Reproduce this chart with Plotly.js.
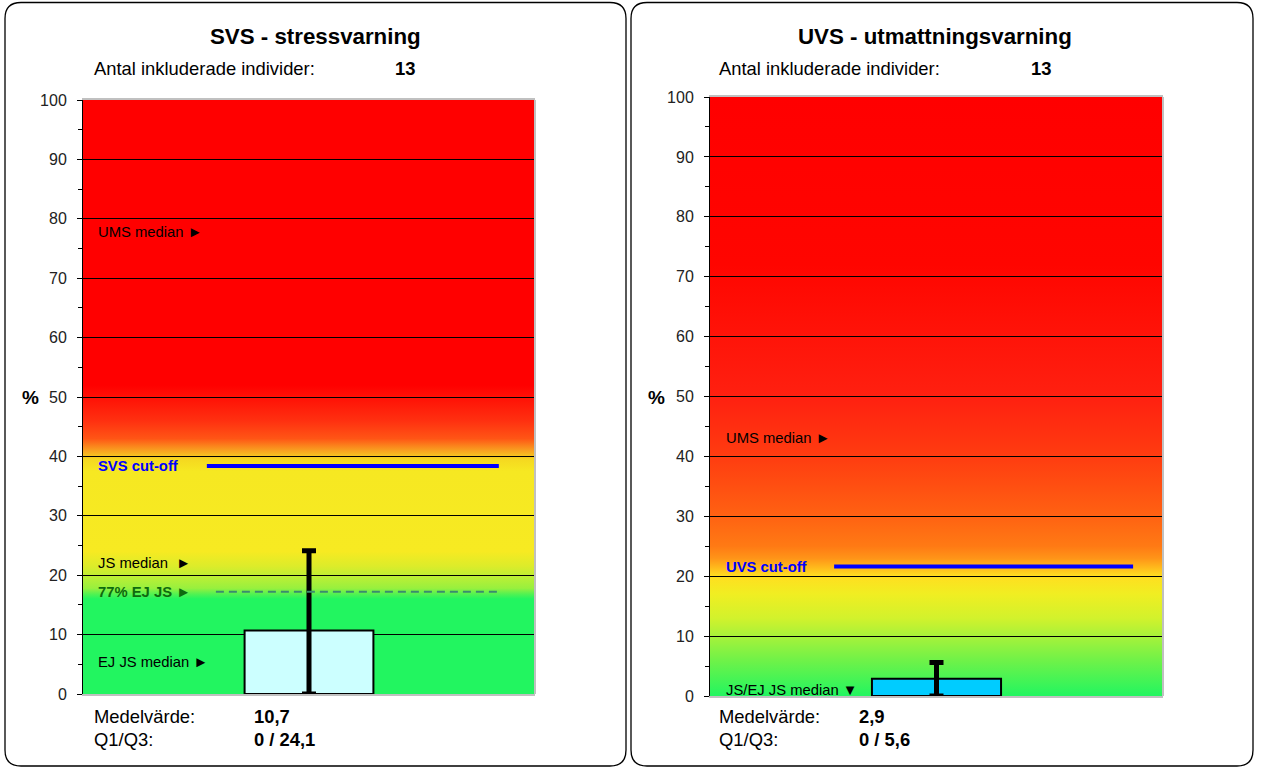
<!DOCTYPE html>
<html>
<head>
<meta charset="utf-8">
<script src="https://cdn.plot.ly/plotly-3.0.1.min.js"></script>
<style>html,body{margin:0;padding:0;background:#fff;}#chart{width:1264px;height:783px;}</style>
</head>
<body>
<div id="chart"></div>
<script>
// ---------- data ----------
const panelTitles = ['SVS - stressvarning', 'UVS - utmattningsvarning'];
const category = ['Grupp'];
const nIncluded = [13, 13];
const meanValues = [10.7, 2.9];
const q1Values = [0, 0];
const q3Values = [24.1, 5.6];
const cutoffValues = [38.4, 21.6];
const cutoffLabels = ['SVS cut-off', 'UVS cut-off'];
const ejJsShareValue = 17.2;              // "77% EJ JS" dashed reference
const svsMarkerLabels = ['UMS median \u25BA', 'JS median  \u25BA', 'EJ JS median \u25BA'];
const svsMarkerValues = [77.8, 22.0, 5.4];
const ejJsShareLabel = '77% EJ JS \u25BA';
const uvsMarkerLabels = ['UMS median \u25BA', 'JS/EJ JS median \u25BC'];
const uvsMarkerValues = [43.1, 1.0];
const yTickValues = [0, 10, 20, 30, 40, 50, 60, 70, 80, 90, 100];
const yTickLabels = ['0', '10', '20', '30', '40', '50', '60', '70', '80', '90', '100'];
const infoLabels = ['Antal inkluderade individer:', 'Medelvärde:', 'Q1/Q3:'];

// ---------- helpers ----------
const W = 1264, H = 783;
const FONT = 'Liberation Sans, Arial, sans-serif';
const px = x => x / W;
const py = y => 1 - y / H;
const fmt = v => String(v).replace('.', ',');

function roundRect(x0, y0, x1, y1, r) {
  return `M ${px(x0 + r)} ${py(y0)} L ${px(x1 - r)} ${py(y0)} Q ${px(x1)} ${py(y0)} ${px(x1)} ${py(y0 + r)} ` +
         `L ${px(x1)} ${py(y1 - r)} Q ${px(x1)} ${py(y1)} ${px(x1 - r)} ${py(y1)} ` +
         `L ${px(x0 + r)} ${py(y1)} Q ${px(x0)} ${py(y1)} ${px(x0)} ${py(y1 - r)} ` +
         `L ${px(x0)} ${py(y0 + r)} Q ${px(x0)} ${py(y0)} ${px(x0 + r)} ${py(y0)} Z`;
}

function gradientSrc(stops) {
  let s = '<svg xmlns="http://www.w3.org/2000/svg" width="10" height="1000" viewBox="0 0 10 1000" preserveAspectRatio="none">' +
          '<defs><linearGradient id="g" x1="0" y1="0" x2="0" y2="1">';
  stops.forEach(([v, c]) => { s += `<stop offset="${(100 - v) / 100}" stop-color="${c}"/>`; });
  s += '</linearGradient></defs><rect x="0" y="0" width="10" height="1000" fill="url(#g)"/></svg>';
  return 'data:image/svg+xml;base64,' + btoa(s);
}

const svsStops = [[100, '#FF0000'], [52, '#FF0000'], [46, '#FF3010'], [43, '#FF5515'], [41, '#F8A020'],
  [39.5, '#F5D820'], [37.5, '#F6E822'], [24, '#F7EA22'], [21.5, '#DCEC2A'], [19.5, '#B8EF36'],
  [17.8, '#98F03E'], [16.8, '#50F252'], [16, '#22F560'], [0, '#22F560']];
const uvsStops = [[100, '#FF0000'], [72, '#FF0500'], [50, '#FF2010'], [40, '#FF3C10'], [30, '#FF6212'],
  [25, '#FF7A14'], [23, '#FF9418'], [21.5, '#FFB81C'], [20, '#FFDE20'], [17, '#F0EE22'], [13, '#D2F22C'],
  [10, '#A8F23A'], [6, '#70F248'], [0, '#22F560']];

// plot-area geometry (pixels)
const areas = [
  {x0: 83, x1: 535, yTop: 100, yBot: 694},
  {x0: 710, x1: 1163, yTop: 97, yBot: 696}
];

function yaxisCfg(a) {
  return {
    domain: [py(a.yBot), py(a.yTop)], range: [0, 100], fixedrange: true,
    tickvals: yTickValues, ticktext: yTickLabels, ticks: 'outside', ticklen: 5, tickcolor: '#000', tickwidth: 1,
    ticklabelstandoff: 7,
    minor: {dtick: 5, tick0: 0, ticks: 'outside', ticklen: 4, tickcolor: '#000', showgrid: false},
    showgrid: true, gridcolor: '#000', gridwidth: 1, zeroline: false,
    showline: true, linecolor: '#000', linewidth: 1, layer: 'below traces',
    tickfont: {family: FONT, size: 16, color: '#222'}, automargin: false
  };
}
function xaxisCfg(a) {
  return {
    domain: [px(a.x0), px(a.x1)], type: 'category', range: [-0.5, 0.5], fixedrange: true,
    showticklabels: false, ticks: '', showgrid: false, zeroline: false,
    showline: true, mirror: true, linecolor: '#C0C0C0', linewidth: 2, layer: 'below traces', automargin: false
  };
}

const barColors = ['#CCFFFF', '#00CCFF'];
const traces = [0, 1].map(i => ({
  type: 'bar', x: category, y: [meanValues[i]], width: [0.285],
  xaxis: i === 0 ? 'x' : 'x2', yaxis: i === 0 ? 'y' : 'y2',
  marker: {color: barColors[i], line: {color: '#000', width: 2}},
  error_y: {type: 'data', symmetric: false, array: [q3Values[i] - meanValues[i]],
            arrayminus: [meanValues[i] - q1Values[i]], thickness: 5, width: 7, color: '#000'},
  hoverinfo: 'skip', showlegend: false
}));

const images = [svsStops, uvsStops].map((st, i) => ({
  source: gradientSrc(st), xref: (i === 0 ? 'x' : 'x2') + ' domain', yref: (i === 0 ? 'y' : 'y2') + ' domain',
  x: 0, y: 1, sizex: 1, sizey: 1, xanchor: 'left', yanchor: 'top', sizing: 'stretch', layer: 'below'
}));

const shapes = [
  {type: 'path', xref: 'paper', yref: 'paper', path: roundRect(5, 2.5, 626, 766, 16), line: {color: '#000', width: 1.3}},
  {type: 'path', xref: 'paper', yref: 'paper', path: roundRect(631, 2.5, 1253, 766, 16), line: {color: '#000', width: 1.3}},
  // right-edge shadow of plot areas
  {type: 'line', xref: 'x domain', yref: 'y domain', x0: 1, x1: 1, y0: 0, y1: 1, line: {color: '#C0C0C0', width: 2}},
  {type: 'line', xref: 'x2 domain', yref: 'y2 domain', x0: 1, x1: 1, y0: 0, y1: 1, line: {color: '#C0C0C0', width: 2}},
  // 77% EJ JS dashed line
  {type: 'line', xref: 'x domain', yref: 'y', x0: 0.294, x1: 0.916, y0: ejJsShareValue, y1: ejJsShareValue,
   line: {color: '#3A8C70', width: 2, dash: '8px,5px'}},
  // cut-off lines
  {type: 'line', xref: 'x domain', yref: 'y', x0: 0.274, x1: 0.920, y0: cutoffValues[0], y1: cutoffValues[0], line: {color: '#0000FF', width: 4}},
  {type: 'line', xref: 'x2 domain', yref: 'y2', x0: 0.274, x1: 0.934, y0: cutoffValues[1], y1: cutoffValues[1], line: {color: '#0000FF', width: 4}}
];

const ann = [];
function txt(text, x, y, opts) {
  ann.push(Object.assign({text, x, y, xref: 'paper', yref: 'paper', xanchor: 'left', yanchor: 'middle',
    showarrow: false, borderpad: 0, font: {family: FONT, size: 18.4, color: '#000'}}, opts || {}));
}
const panelGeom = [
  {titleX: 315, infoX: 93, nX: 394, valX: 253, pctX: 30, labelX: 0.031},
  {titleX: 935, infoX: 718, nX: 1030, valX: 858, pctX: 656, labelX: 0.033}
];
[0, 1].map(i => {
  const g = panelGeom[i];
  txt('<b>' + panelTitles[i] + '</b>', px(g.titleX), py(37), {xanchor: 'center', font: {family: FONT, size: 22.3, color: '#000'}});
  txt(infoLabels[0], px(g.infoX), py(69));
  txt('<b>' + nIncluded[i] + '</b>', px(g.nX), py(69));
  txt(infoLabels[1], px(g.infoX), py(716));
  txt('<b>' + fmt(meanValues[i]) + '</b>', px(g.valX), py(716));
  txt(infoLabels[2], px(g.infoX), py(739));
  txt('<b>' + fmt(q1Values[i]) + ' / ' + fmt(q3Values[i]) + '</b>', px(g.valX), py(739));
  txt('<b>%</b>', px(g.pctX), py(397), {xanchor: 'center', font: {family: FONT, size: 19, color: '#000'}});
  const xr = (i === 0 ? 'x' : 'x2') + ' domain', yr = i === 0 ? 'y' : 'y2';
  ann.push({text: '<b>' + cutoffLabels[i] + '</b>', x: g.labelX, y: cutoffValues[i], xref: xr, yref: yr, borderpad: 0,
    xanchor: 'left', yanchor: 'middle', showarrow: false, font: {family: FONT, size: 14.8, color: '#0000FF'}});
  const labs = i === 0 ? svsMarkerLabels : uvsMarkerLabels;
  const vals = i === 0 ? svsMarkerValues : uvsMarkerValues;
  labs.forEach((l, k) => ann.push({text: l.replace(/ {2}/g, '&nbsp; '), x: g.labelX, y: vals[k], xref: xr, yref: yr, borderpad: 0,
    xanchor: 'left', yanchor: 'middle', showarrow: false, font: {family: FONT, size: 14.8, color: '#000'}}));
});
ann.push({text: '<b>' + ejJsShareLabel + '</b>', x: panelGeom[0].labelX, y: ejJsShareValue, xref: 'x domain', yref: 'y', borderpad: 0,
  xanchor: 'left', yanchor: 'middle', showarrow: false, font: {family: FONT, size: 14.8, color: '#0E6A0E'}});

const layout = {
  width: W, height: H, margin: {l: 0, r: 0, t: 0, b: 0, pad: 0},
  paper_bgcolor: '#FFFFFF', plot_bgcolor: 'rgba(0,0,0,0)', showlegend: false,
  font: {family: FONT, color: '#000'},
  xaxis: xaxisCfg(areas[0]), yaxis: yaxisCfg(areas[0]),
  xaxis2: Object.assign(xaxisCfg(areas[1]), {anchor: 'y2'}),
  yaxis2: Object.assign(yaxisCfg(areas[1]), {anchor: 'x2'}),
  images: images, shapes: shapes, annotations: ann, bargap: 0
};

Plotly.newPlot('chart', traces, layout, {staticPlot: true, displayModeBar: false});
</script>
</body>
</html>
